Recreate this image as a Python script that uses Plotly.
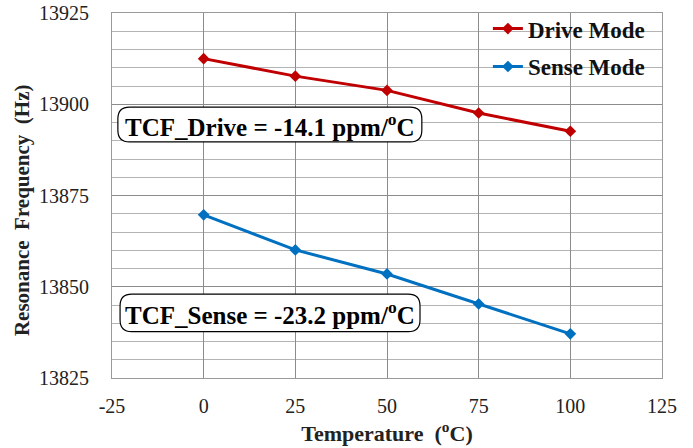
import plotly.graph_objects as go

# Resonance frequency vs. temperature for drive and sense modes
temperature = [0, 25, 50, 75, 100]
drive_freq = [13912.5, 13907.7, 13903.8, 13897.6, 13892.6]
sense_freq = [13869.7, 13860.1, 13853.5, 13845.3, 13837.1]

series_names = ["Drive Mode", "Sense Mode"]
series_colors = ["#C00000", "#0070C0"]

x_ticks = [-25, 0, 25, 50, 75, 100, 125]
y_ticks = [13825, 13850, 13875, 13900, 13925]

tcf_labels = [
    "TCF_Drive = -14.1 ppm/<sup>o</sup>C",
    "TCF_Sense = -23.2 ppm/<sup>o</sup>C",
]

SERIF = "'Liberation Serif', 'Times New Roman', serif"

fig = go.Figure()
for i, (name, ys) in enumerate(zip(series_names, [drive_freq, sense_freq])):
    fig.add_trace(go.Scatter(
        x=temperature, y=ys, name=f"<b>{name}</b>", mode="lines+markers",
        legendgroup=name,
        line=dict(color=series_colors[i], width=3),
        marker=dict(symbol="diamond", size=9, color=series_colors[i]),
    ))


def rounded_box(x0, x1, y0, y1, rx, ry):
    """SVG path of a rounded rectangle in data coordinates."""
    return (
        f"M {x0 + rx},{y1} L {x1 - rx},{y1} Q {x1},{y1} {x1},{y1 - ry} "
        f"L {x1},{y0 + ry} Q {x1},{y0} {x1 - rx},{y0} "
        f"L {x0 + rx},{y0} Q {x0},{y0} {x0},{y0 + ry} "
        f"L {x0},{y1 - ry} Q {x0},{y1} {x0 + rx},{y1} Z"
    )


# label boxes: (x0, x1, y0, y1)
boxes = [(-23.4, 59.5, 13889.7, 13899.2), (-22.8, 59.0, 13837.7, 13848.0)]
for (x0, x1, y0, y1), label in zip(boxes, tcf_labels):
    fig.add_shape(
        type="path", xref="x", yref="y",
        path=rounded_box(x0, x1, y0, y1, 3.2, 3.2),
        line=dict(color="black", width=1.2), fillcolor="white", layer="above",
    )
    fig.add_annotation(
        x=(x0 + x1) / 2, y=(y0 + y1) / 2, xref="x", yref="y",
        text=f"<b>{label}</b>", showarrow=False,
        font=dict(family=SERIF, size=25, color="black"),
    )

# y-axis title, placed in paper coordinates left of the plot area
fig.add_annotation(
    x=(22 - 112) / 550, xref="paper", y=0.46, yref="paper",
    xanchor="center", yanchor="middle",
    text="<b>Resonance  Frequency  (Hz)</b>", textangle=-90, showarrow=False,
    font=dict(family=SERIF, size=21, color="#222222"),
)

fig.update_layout(
    width=693, height=448,
    margin=dict(l=112, r=31, t=13, b=70, autoexpand=False),
    paper_bgcolor="white", plot_bgcolor="white",
    showlegend=True,
    legend=dict(
        x=0.978, y=1.016, xanchor="right", yanchor="top",
        bgcolor="rgba(0,0,0,0)", traceorder="grouped", tracegroupgap=5,
        font=dict(family=SERIF, size=23, color="#111111"),
        itemwidth=30,
    ),
    font=dict(family=SERIF, color="#222222"),
)

fig.update_xaxes(
    range=[-25, 125], tickvals=x_ticks, ticktext=[str(v) for v in x_ticks],
    automargin=False,
    showgrid=True, gridcolor="#8c8c8c", gridwidth=1,
    showline=True, linecolor="#9a9a9a", linewidth=1, mirror=True,
    zeroline=False, ticks="", ticklabelstandoff=10,
    tickfont=dict(family=SERIF, size=20, color="#222222"),
    title=dict(text="<b>Temperature  (<sup>o</sup>C)</b>",
               font=dict(family=SERIF, size=22, color="#222222"), standoff=9),
)
fig.update_yaxes(
    range=[13825, 13925], tickvals=y_ticks, ticktext=[str(v) for v in y_ticks],
    automargin=False,
    showgrid=True, gridcolor="#8c8c8c", gridwidth=1,
    minor=dict(dtick=5, showgrid=True, gridcolor="#b4b4b4", gridwidth=1),
    showline=True, linecolor="#9a9a9a", linewidth=1, mirror=True,
    zeroline=False, ticks="", ticklabelstandoff=18,
    tickfont=dict(family=SERIF, size=20, color="#222222"),
)

fig.write_html("out.html")
